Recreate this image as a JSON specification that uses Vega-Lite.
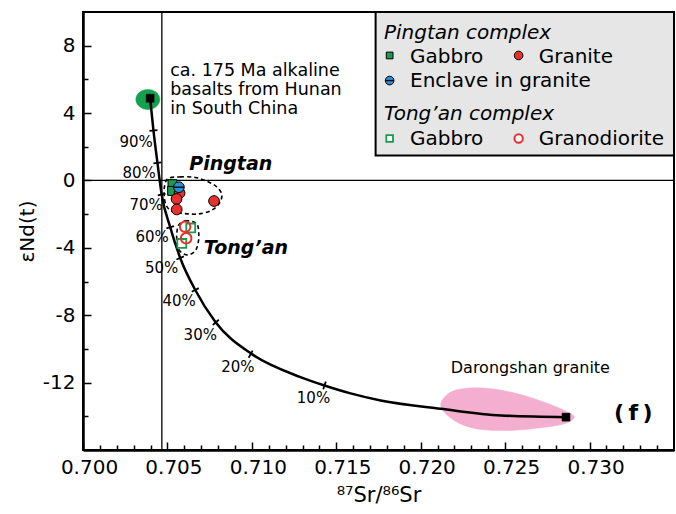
{
  "$schema": "https://vega.github.io/schema/vega-lite/v6.json",
  "width": 591,
  "height": 438,
  "autosize": {"type": "none"},
  "padding": {"left": 83, "top": 12, "right": 2, "bottom": 64},
  "background": "white",
  "config": {
    "font": "DejaVu Sans",
    "view": {"stroke": "black", "strokeWidth": 2}
  },
  "datasets": {
    "box": [{"x": 0.717329, "x2": 0.735, "y": 10, "y2": 1.48}],
    "pink": [
      {"i": 0, "x": 0.721187, "y": -13.25}, {"i": 1, "x": 0.72178, "y": -12.56},
      {"i": 2, "x": 0.722772, "y": -12.33}, {"i": 3, "x": 0.724154, "y": -12.36},
      {"i": 4, "x": 0.725739, "y": -12.66}, {"i": 5, "x": 0.727318, "y": -13.16},
      {"i": 6, "x": 0.728504, "y": -13.65}, {"i": 7, "x": 0.729098, "y": -14.05},
      {"i": 8, "x": 0.728504, "y": -14.44}, {"i": 9, "x": 0.727122, "y": -14.68},
      {"i": 10, "x": 0.725341, "y": -14.84}, {"i": 11, "x": 0.723757, "y": -14.8},
      {"i": 12, "x": 0.72257, "y": -14.54}, {"i": 13, "x": 0.721585, "y": -13.95}
    ],
    "greenEll": [
      {"i": 0, "x": 0.704552, "y": 4.81}, {"i": 1, "x": 0.704498, "y": 5.03},
      {"i": 2, "x": 0.704344, "y": 5.23}, {"i": 3, "x": 0.704112, "y": 5.36},
      {"i": 4, "x": 0.70384, "y": 5.4}, {"i": 5, "x": 0.703567, "y": 5.36},
      {"i": 6, "x": 0.703336, "y": 5.23}, {"i": 7, "x": 0.703182, "y": 5.03},
      {"i": 8, "x": 0.703128, "y": 4.81}, {"i": 9, "x": 0.703182, "y": 4.58},
      {"i": 10, "x": 0.703336, "y": 4.39}, {"i": 11, "x": 0.703567, "y": 4.26},
      {"i": 12, "x": 0.70384, "y": 4.21}, {"i": 13, "x": 0.704112, "y": 4.26},
      {"i": 14, "x": 0.704344, "y": 4.39}, {"i": 15, "x": 0.704498, "y": 4.58}
    ],
    "dashEll": [
      {"g": "Pingtan", "i": 0, "x": 0.705045, "y": 0.12},
      {"g": "Pingtan", "i": 1, "x": 0.705757, "y": 0.21},
      {"g": "Pingtan", "i": 2, "x": 0.706647, "y": 0.18},
      {"g": "Pingtan", "i": 3, "x": 0.707359, "y": -0.06},
      {"g": "Pingtan", "i": 4, "x": 0.707893, "y": -0.36},
      {"g": "Pingtan", "i": 5, "x": 0.70822, "y": -0.83},
      {"g": "Pingtan", "i": 6, "x": 0.708071, "y": -1.36},
      {"g": "Pingtan", "i": 7, "x": 0.707596, "y": -1.78},
      {"g": "Pingtan", "i": 8, "x": 0.706825, "y": -1.99},
      {"g": "Pingtan", "i": 9, "x": 0.705994, "y": -1.96},
      {"g": "Pingtan", "i": 10, "x": 0.705282, "y": -1.84},
      {"g": "Pingtan", "i": 11, "x": 0.704926, "y": -1.48},
      {"g": "Pingtan", "i": 12, "x": 0.704807, "y": -0.89},
      {"g": "Pingtan", "i": 13, "x": 0.704837, "y": -0.3},
      {"g": "Tongan", "i": 0, "x": 0.705757, "y": -2.55},
      {"g": "Tongan", "i": 1, "x": 0.706053, "y": -2.4},
      {"g": "Tongan", "i": 2, "x": 0.706469, "y": -2.43},
      {"g": "Tongan", "i": 3, "x": 0.706766, "y": -2.61},
      {"g": "Tongan", "i": 4, "x": 0.706855, "y": -3.09},
      {"g": "Tongan", "i": 5, "x": 0.706825, "y": -3.68},
      {"g": "Tongan", "i": 6, "x": 0.706647, "y": -4.18},
      {"g": "Tongan", "i": 7, "x": 0.706231, "y": -4.42},
      {"g": "Tongan", "i": 8, "x": 0.705816, "y": -4.27},
      {"g": "Tongan", "i": 9, "x": 0.705579, "y": -3.86},
      {"g": "Tongan", "i": 10, "x": 0.705549, "y": -3.26},
      {"g": "Tongan", "i": 11, "x": 0.705608, "y": -2.79}
    ],
    "refV": [{"x": 0.70467, "y": -16, "y2": 10}],
    "refH": [{"x": 0.7, "x2": 0.735, "y": 0}],
    "curve": [
      {"i": 0, "x": 0.703976, "y": 4.88}, {"i": 1, "x": 0.704172, "y": 2.97},
      {"i": 2, "x": 0.70441, "y": 1.04}, {"i": 3, "x": 0.704659, "y": -0.83},
      {"i": 4, "x": 0.705163, "y": -2.77}, {"i": 5, "x": 0.705757, "y": -4.6},
      {"i": 6, "x": 0.706647, "y": -6.5}, {"i": 7, "x": 0.707864, "y": -8.43},
      {"i": 8, "x": 0.710003, "y": -10.31}, {"i": 9, "x": 0.712878, "y": -11.67},
      {"i": 10, "x": 0.714303, "y": -12.17}, {"i": 11, "x": 0.715846, "y": -12.64},
      {"i": 12, "x": 0.717626, "y": -13.06}, {"i": 13, "x": 0.721187, "y": -13.55},
      {"i": 14, "x": 0.724748, "y": -13.95}, {"i": 15, "x": 0.728605, "y": -14.05}
    ],
    "cticks": [
      {"x": 0.703935, "y": 2.94, "x2": 0.704409, "y2": 2.99},
      {"x": 0.704172, "y": 1.01, "x2": 0.704647, "y2": 1.07},
      {"x": 0.704427, "y": -0.88, "x2": 0.70489, "y2": -0.78},
      {"x": 0.704938, "y": -2.84, "x2": 0.705389, "y2": -2.71},
      {"x": 0.705537, "y": -4.69, "x2": 0.705976, "y2": -4.51},
      {"x": 0.706439, "y": -6.61, "x2": 0.706855, "y2": -6.39},
      {"x": 0.707685, "y": -8.58, "x2": 0.708042, "y2": -8.27},
      {"x": 0.70981, "y": -10.52, "x2": 0.710047, "y2": -10.1},
      {"x": 0.714226, "y": -12.39, "x2": 0.71438, "y2": -11.94}
    ],
    "ends": [{"x": 0.703976, "y": 4.88}, {"x": 0.728605, "y": -14.05}],
    "samples": [
      {"type": "Pingtan gabbro", "x": 0.7053, "y": -0.22},
      {"type": "Pingtan gabbro", "x": 0.70528, "y": -0.62},
      {"type": "Pingtan granite", "x": 0.70572, "y": -0.75},
      {"type": "Pingtan granite", "x": 0.70554, "y": -1.1},
      {"type": "Pingtan granite", "x": 0.70555, "y": -1.72},
      {"type": "Pingtan granite", "x": 0.70776, "y": -1.22},
      {"type": "Enclave", "x": 0.70568, "y": -0.4},
      {"type": "Tongan gabbro", "x": 0.70638, "y": -2.82},
      {"type": "Tongan gabbro", "x": 0.70585, "y": -3.74},
      {"type": "Tongan granodiorite", "x": 0.70605, "y": -2.75},
      {"type": "Tongan granodiorite", "x": 0.70611, "y": -3.43}
    ],
    "pct": [
      {"t": "90%", "x": 0.703145, "y": 2.26}, {"t": "80%", "x": 0.703323, "y": 0.42},
      {"t": "70%", "x": 0.703739, "y": -1.48}, {"t": "60%", "x": 0.704095, "y": -3.35},
      {"t": "50%", "x": 0.704659, "y": -5.19}, {"t": "40%", "x": 0.705697, "y": -7.18},
      {"t": "30%", "x": 0.706944, "y": -9.2}, {"t": "20%", "x": 0.709169, "y": -11.08},
      {"t": "10%", "x": 0.71365, "y": -12.94}
    ],
    "notes": [
      {"t": "ca. 175 Ma alkaline", "x": 0.705163, "y": 6.2},
      {"t": "basalts from Hunan", "x": 0.705163, "y": 5.07},
      {"t": "in South China", "x": 0.705163, "y": 3.93}
    ],
    "groups": [
      {"t": "Pingtan", "x": 0.706291, "y": 0.62},
      {"t": "Tong’an", "x": 0.707151, "y": -4.39}
    ],
    "daro": [{"t": "Darongshan granite", "x": 0.72178, "y": -11.41}],
    "panel": [{"t": "(\u2009f\u2009)", "x": 0.731454, "y": -14.24}],
    "legHead": [
      {"t": "Pingtan complex", "x": 0.717822, "y": 8.41},
      {"t": "Tong’an complex", "x": 0.717822, "y": 3.56}
    ],
    "legItem": [
      {"t": "Gabbro", "x": 0.719365, "y": 6.96},
      {"t": "Granite", "x": 0.726985, "y": 6.96},
      {"t": "Enclave in granite", "x": 0.719365, "y": 5.54},
      {"t": "Gabbro", "x": 0.719365, "y": 2.08},
      {"t": "Granodiorite", "x": 0.726985, "y": 2.08}
    ],
    "legSym": [
      {"type": "Pingtan gabbro", "x": 0.71816, "y": 7.42},
      {"type": "Pingtan granite", "x": 0.725798, "y": 7.42},
      {"type": "Enclave", "x": 0.71816, "y": 5.93},
      {"type": "Tongan gabbro", "x": 0.71816, "y": 2.49},
      {"type": "Tongan granodiorite", "x": 0.725798, "y": 2.49}
    ]
  },
  "encoding": {
    "x": {"field": "x", "type": "quantitative", "scale": {"domain": [0.7, 0.735], "nice": false, "zero": false}, "axis": null},
    "y": {"field": "y", "type": "quantitative", "scale": {"domain": [-16, 10], "nice": false, "zero": false}, "axis": null}
  },
  "resolve": {"axis": {"x": "independent", "y": "independent"}},
  "layer": [
    {
      "data": {"name": "box"},
      "mark": {"type": "rect", "fill": "#e6e6e6", "stroke": "black", "strokeWidth": 2},
      "encoding": {
        "x": {
          "field": "x", "type": "quantitative",
          "scale": {"domain": [0.7, 0.735], "nice": false, "zero": false},
          "axis": {
            "orient": "bottom",
            "values": [0.7, 0.705, 0.71, 0.715, 0.72, 0.725, 0.73],
            "format": ".3f", "grid": false,
            "tickSize": -8, "tickWidth": 1.5, "tickColor": "black",
            "domainColor": "black", "domainWidth": 2.5,
            "labelPadding": 15, "labelFontSize": 20, "labelFont": "DejaVu Sans", "labelColor": "black",
            "labelOffset": 6, "labelFlush": false, "labelOverlap": false,
            "title": "⁸⁷Sr/⁸⁶Sr", "titleFont": "DejaVu Sans", "titleFontSize": 21, "titleFontWeight": "normal",
            "titleColor": "black", "titlePadding": 7
          }
        },
        "x2": {"field": "x2"},
        "y": {
          "field": "y", "type": "quantitative",
          "scale": {"domain": [-16, 10], "nice": false, "zero": false},
          "axis": {
            "orient": "left",
            "values": [-12, -8, -4, 0, 4, 8],
            "labelExpr": "'' + datum.value",
            "grid": false,
            "tickSize": -8, "tickWidth": 1.5, "tickColor": "black",
            "domainColor": "black", "domainWidth": 2.5,
            "labelPadding": 16, "labelFontSize": 20, "labelFont": "DejaVu Sans", "labelColor": "black",
            "labelFlush": false, "labelOverlap": false,
            "title": "εNd(t)", "titleFont": "DejaVu Sans", "titleFontSize": 20, "titleFontWeight": "normal",
            "titleColor": "black", "titlePadding": 5
          }
        },
        "y2": {"field": "y2"}
      }
    },
    {
      "data": {"name": "pink"},
      "mark": {"type": "line", "interpolate": "cardinal-closed", "fill": "#f4afd0", "stroke": "#f4afd0", "strokeWidth": 0.5},
      "encoding": {
        "x": {
          "field": "x", "type": "quantitative",
          "axis": {
            "orient": "bottom",
            "values": [0.701, 0.702, 0.703, 0.704, 0.706, 0.707, 0.708, 0.709, 0.711, 0.712, 0.713, 0.714, 0.716, 0.717, 0.718, 0.719, 0.721, 0.722, 0.723, 0.724, 0.726, 0.727, 0.728, 0.729, 0.731, 0.732, 0.733, 0.734],
            "labels": false, "domain": false, "grid": false, "title": null,
            "tickSize": -5, "tickWidth": 1.5, "tickColor": "black"
          }
        },
        "y": {
          "field": "y", "type": "quantitative",
          "axis": {
            "orient": "left",
            "values": [-14, -10, -6, -2, 2, 6],
            "labels": false, "domain": false, "grid": false, "title": null,
            "tickSize": -5, "tickWidth": 1.5, "tickColor": "black"
          }
        },
        "order": {"field": "i"}
      }
    },
    {
      "data": {"name": "greenEll"},
      "mark": {"type": "line", "interpolate": "cardinal-closed", "fill": "#15a04e", "stroke": "#15a04e", "strokeWidth": 0.5},
      "encoding": {"order": {"field": "i"}}
    },
    {
      "data": {"name": "refV"},
      "mark": {"type": "rule", "stroke": "black", "strokeWidth": 1.3},
      "encoding": {"y2": {"field": "y2"}}
    },
    {
      "data": {"name": "refH"},
      "mark": {"type": "rule", "stroke": "black", "strokeWidth": 1.3},
      "encoding": {"x2": {"field": "x2"}}
    },
    {
      "data": {"name": "dashEll"},
      "mark": {"type": "line", "interpolate": "cardinal-closed", "stroke": "black", "strokeWidth": 1.6, "strokeDash": [4, 3]},
      "encoding": {"detail": {"field": "g"}, "order": {"field": "i"}}
    },
    {
      "data": {"name": "curve"},
      "mark": {"type": "line", "interpolate": "monotone", "stroke": "black", "strokeWidth": 2.5},
      "encoding": {"order": {"field": "i"}}
    },
    {
      "data": {"name": "cticks"},
      "mark": {"type": "rule", "stroke": "black", "strokeWidth": 1.8},
      "encoding": {"x2": {"field": "x2"}, "y2": {"field": "y2"}}
    },
    {
      "data": {"name": "ends"},
      "mark": {"type": "point", "shape": "square", "filled": true, "fill": "black", "stroke": "black", "strokeWidth": 0.5, "size": 64, "opacity": 1}
    },
    {
      "data": {"name": "samples"},
      "transform": [{"filter": "datum.type === 'Pingtan gabbro'"}],
      "mark": {"type": "point", "shape": "square", "filled": true, "fill": "#1a9a4c", "stroke": "black", "strokeWidth": 1, "size": 80, "opacity": 1}
    },
    {
      "data": {"name": "samples"},
      "transform": [{"filter": "datum.type === 'Tongan gabbro'"}],
      "mark": {"type": "point", "shape": "square", "filled": true, "fill": "white", "stroke": "#1a9a4c", "strokeWidth": 1.8, "size": 80, "opacity": 1}
    },
    {
      "data": {"name": "samples"},
      "transform": [{"filter": "datum.type === 'Tongan granodiorite'"}],
      "mark": {"type": "point", "shape": "circle", "filled": true, "fill": "white", "fillOpacity": 0, "stroke": "#e8302f", "strokeWidth": 2, "size": 110, "opacity": 1}
    },
    {
      "data": {"name": "samples"},
      "transform": [{"filter": "datum.type === 'Pingtan granite'"}],
      "mark": {"type": "point", "shape": "circle", "filled": true, "fill": "#e8302f", "stroke": "black", "strokeWidth": 1, "size": 115, "opacity": 1}
    },
    {
      "data": {"name": "samples"},
      "transform": [{"filter": "datum.type === 'Enclave'"}],
      "mark": {"type": "point", "shape": "circle", "filled": true, "fill": "#2b8fd6", "stroke": "black", "strokeWidth": 1, "size": 115, "opacity": 1}
    },
    {
      "data": {"name": "samples"},
      "transform": [{"filter": "datum.type === 'Enclave'"}],
      "mark": {"type": "point", "shape": "stroke", "filled": false, "stroke": "black", "strokeWidth": 1.3, "size": 100, "opacity": 1}
    },
    {
      "data": {"name": "pct"},
      "mark": {"type": "text", "font": "DejaVu Sans", "fontSize": 15, "align": "center", "baseline": "middle", "color": "black"},
      "encoding": {"text": {"field": "t"}}
    },
    {
      "data": {"name": "notes"},
      "mark": {"type": "text", "font": "DejaVu Sans", "fontSize": 17.5, "align": "left", "baseline": "alphabetic", "color": "black"},
      "encoding": {"text": {"field": "t"}}
    },
    {
      "data": {"name": "groups"},
      "mark": {"type": "text", "font": "DejaVu Sans", "fontSize": 19, "fontStyle": "italic", "fontWeight": "bold", "align": "left", "baseline": "alphabetic", "color": "black"},
      "encoding": {"text": {"field": "t"}}
    },
    {
      "data": {"name": "daro"},
      "mark": {"type": "text", "font": "DejaVu Sans", "fontSize": 16, "align": "left", "baseline": "alphabetic", "color": "black"},
      "encoding": {"text": {"field": "t"}}
    },
    {
      "data": {"name": "panel"},
      "mark": {"type": "text", "font": "DejaVu Sans", "fontSize": 22, "fontWeight": "bold", "align": "left", "baseline": "alphabetic", "color": "black"},
      "encoding": {"text": {"field": "t"}}
    },
    {
      "data": {"name": "legHead"},
      "mark": {"type": "text", "font": "DejaVu Sans", "fontSize": 20, "fontStyle": "italic", "align": "left", "baseline": "alphabetic", "color": "black"},
      "encoding": {"text": {"field": "t"}}
    },
    {
      "data": {"name": "legItem"},
      "mark": {"type": "text", "font": "DejaVu Sans", "fontSize": 20, "align": "left", "baseline": "alphabetic", "color": "black"},
      "encoding": {"text": {"field": "t"}}
    },
    {
      "data": {"name": "legSym"},
      "transform": [{"filter": "datum.type === 'Pingtan gabbro'"}],
      "mark": {"type": "point", "shape": "square", "filled": true, "fill": "#1a9a4c", "stroke": "black", "strokeWidth": 1, "size": 45, "opacity": 1}
    },
    {
      "data": {"name": "legSym"},
      "transform": [{"filter": "datum.type === 'Tongan gabbro'"}],
      "mark": {"type": "point", "shape": "square", "filled": true, "fill": "white", "stroke": "#1a9a4c", "strokeWidth": 1.8, "size": 45, "opacity": 1}
    },
    {
      "data": {"name": "legSym"},
      "transform": [{"filter": "datum.type === 'Pingtan granite'"}],
      "mark": {"type": "point", "shape": "circle", "filled": true, "fill": "#e8302f", "stroke": "black", "strokeWidth": 1, "size": 75, "opacity": 1}
    },
    {
      "data": {"name": "legSym"},
      "transform": [{"filter": "datum.type === 'Tongan granodiorite'"}],
      "mark": {"type": "point", "shape": "circle", "filled": true, "fill": "white", "stroke": "#e8302f", "strokeWidth": 2, "size": 70, "opacity": 1}
    },
    {
      "data": {"name": "legSym"},
      "transform": [{"filter": "datum.type === 'Enclave'"}],
      "mark": {"type": "point", "shape": "circle", "filled": true, "fill": "#2b8fd6", "stroke": "black", "strokeWidth": 1, "size": 75, "opacity": 1}
    },
    {
      "data": {"name": "legSym"},
      "transform": [{"filter": "datum.type === 'Enclave'"}],
      "mark": {"type": "point", "shape": "stroke", "filled": false, "stroke": "black", "strokeWidth": 1.3, "size": 70, "opacity": 1}
    }
  ]
}
